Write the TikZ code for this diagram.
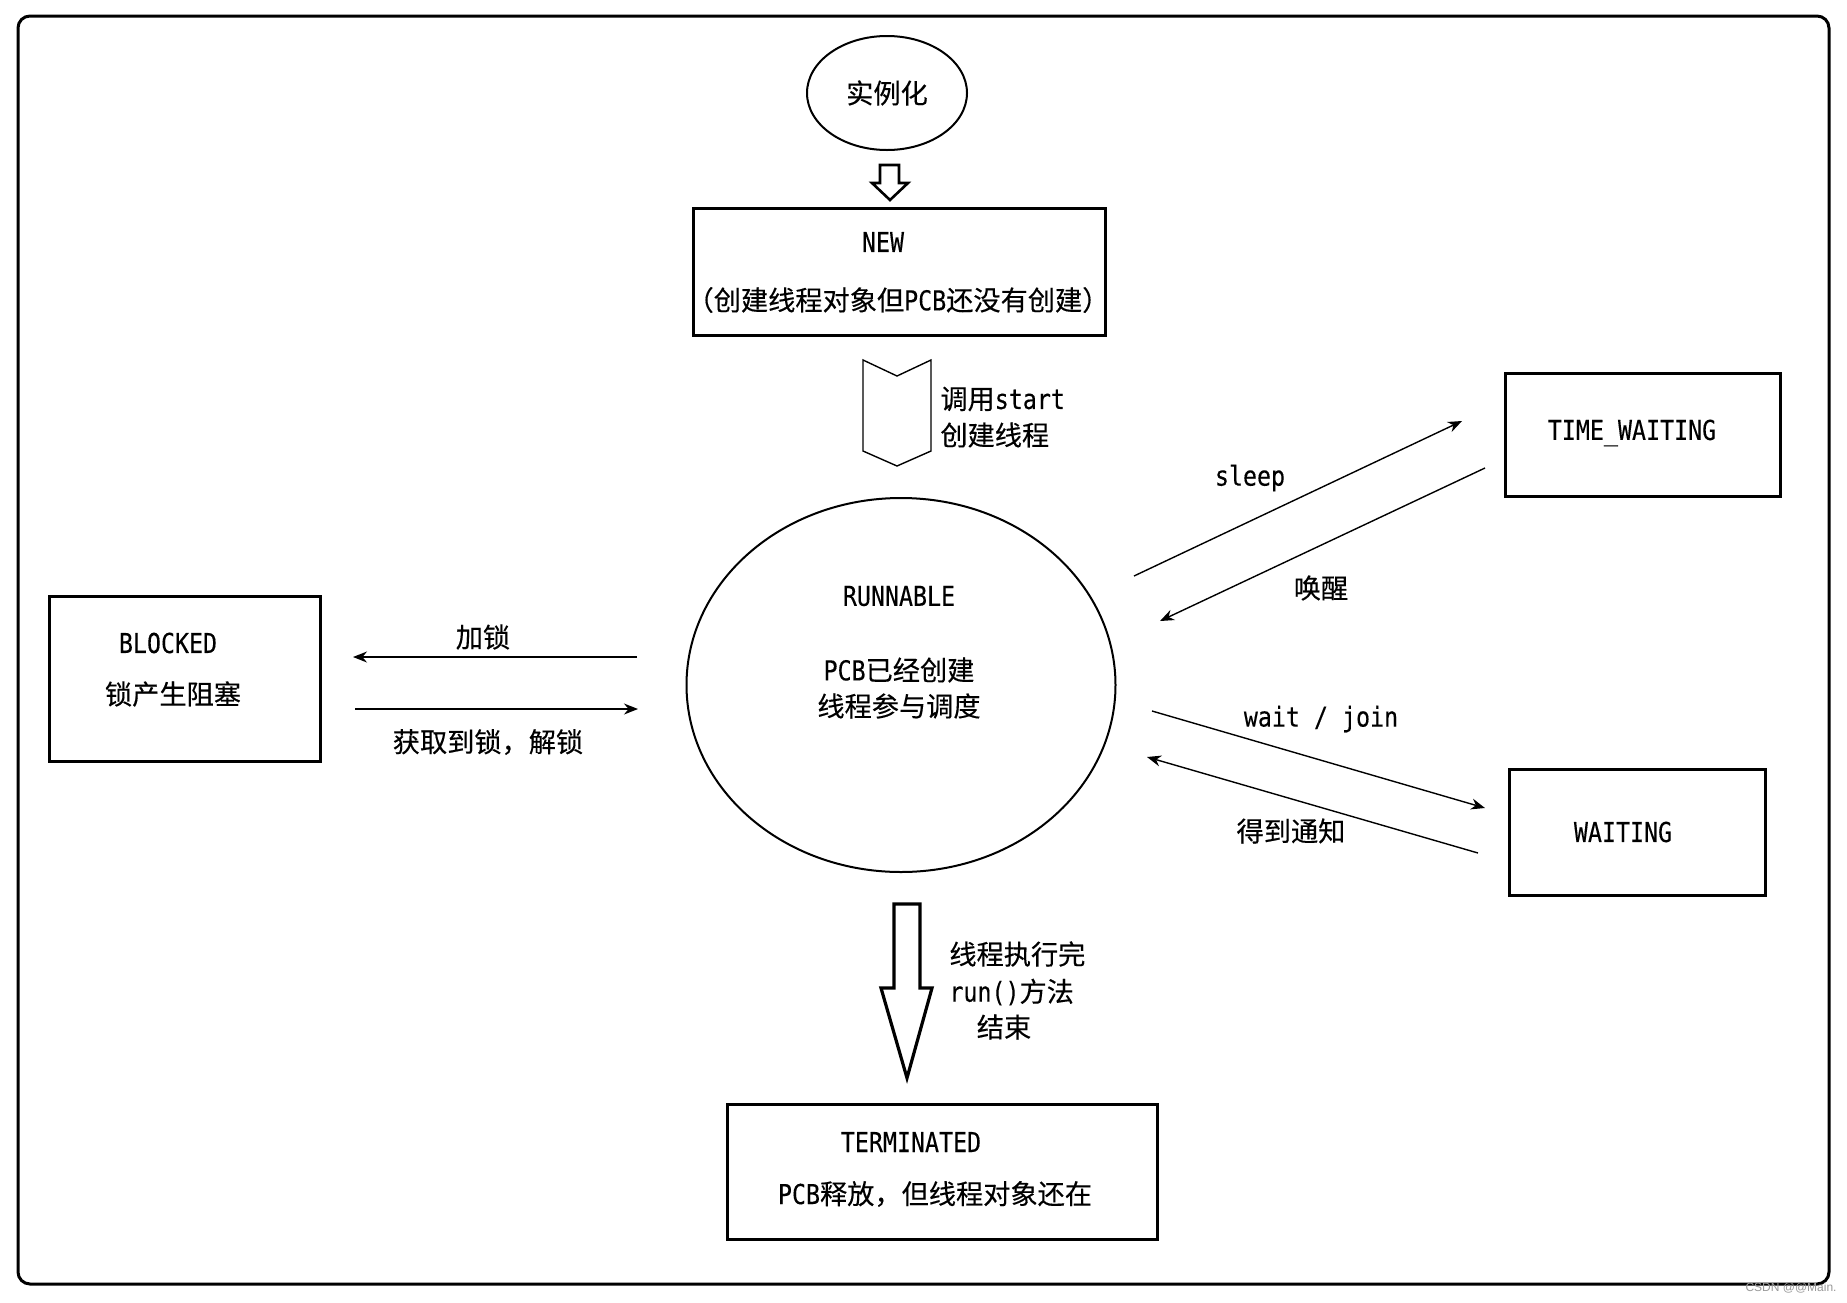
\documentclass[tikz,border=0pt]{standalone}
\usepackage{fontspec}
\setmainfont{Noto Sans CJK SC}[FakeBold=0.3]
\newfontfamily\latinmono[FakeStretch=0.85,FakeBold=0.2]{DejaVu Sans Mono}
\newfontfamily\markfont{Liberation Sans}
\usetikzlibrary{arrows.meta,shapes.geometric}
\newcommand\ltn[1]{{\fontsize{13.7}{18}\latinmono #1}}
\begin{document}
\begin{tikzpicture}[x=0.5pt,y=-0.5pt,
  txt/.style={inner sep=0pt, font=\fontsize{13.6}{18}\selectfont},
  box/.style={draw, line width=1.5pt, inner sep=0pt},
  oval/.style={draw, ellipse, line width=1pt, inner sep=0pt},
  conn/.style={line width=0.7pt, -{Stealth[length=7pt,width=5.5pt]}},
  hollow/.style={draw, line width=1.3pt, line join=miter},
  frame/.style={draw, line width=1.5pt, rounded corners=6pt, inner sep=0pt}
]
\fill[white] (0,0) rectangle (1847,1302);
\useasboundingbox (0,0) rectangle (1847,1302);

% outer frame
\node[frame, minimum width=905.5pt, minimum height=634pt] (frame) at (923.5,650) {};

% states
\node[oval, minimum width=80pt, minimum height=57pt] (inst) at (887,93) {};
\node[box, minimum width=206pt, minimum height=63.5pt] (new) at (899,271.5) {};
\node[oval, minimum width=214.5pt, minimum height=187pt] (run) at (901,685) {};
\node[box, minimum width=137.5pt, minimum height=61.5pt] (timed) at (1642.5,434.5) {};
\node[box, minimum width=128pt, minimum height=63pt] (waiting) at (1637,832) {};
\node[box, minimum width=135.5pt, minimum height=82.5pt] (blocked) at (184.5,678.5) {};
\node[box, minimum width=215pt, minimum height=67.5pt] (term) at (942,1171.5) {};

% texts inside the states
\node[txt] (instT) at (887,93) {实例化};
\node[txt] (newT) at (883,242) {\ltn{NEW}};
\node[txt] (newD) at (898,300) {（创建线程对象但\ltn{PCB}还没有创建）};
\node[txt] (runT) at (899,596) {\ltn{RUNNABLE}};
\node[txt] (runD1) at (899,670) {\ltn{PCB}已经创建};
\node[txt] (runD2) at (899,706) {线程参与调度};
\node[txt] (timedT) at (1632,433) {\ltn{TIME\_WAITING}};
\node[txt] (waitingT) at (1623,832) {\ltn{WAITING}};
\node[txt] (blockedT) at (168,643) {\ltn{BLOCKED}};
\node[txt] (blockedD) at (173,694) {锁产生阻塞};
\node[txt] (termT) at (911,1142) {\ltn{TERMINATED}};
\node[txt] (termD) at (935,1194) {\ltn{PCB}释放，但线程对象还在};

% hollow arrow: instantiation -> NEW
\coordinate (a1) at (880,165);
\coordinate (a2) at (899,165);
\coordinate (a3) at (899,183);
\coordinate (a4) at (908,183);
\coordinate (a5) at (890,200);
\coordinate (a6) at (872,183);
\coordinate (a7) at (880,183);
\draw[hollow] (a1) -- (a2) -- (a3) -- (a4) -- (a5) -- (a6) -- (a7) -- cycle;

% chevron: NEW -> RUNNABLE
\coordinate (c1) at (863,360);
\coordinate (c2) at (897,376);
\coordinate (c3) at (931,360);
\coordinate (c4) at (931,451);
\coordinate (c5) at (897,466);
\coordinate (c6) at (863,451);
\draw[line width=0.7pt, line join=miter] (c1) -- (c2) -- (c3) -- (c4) -- (c5) -- (c6) -- cycle;
\node[txt, anchor=west] (startA) at (940,399) {调用\ltn{start}};
\node[txt, anchor=west] (startB) at (940,435) {创建线程};

% big hollow arrow: RUNNABLE -> TERMINATED
\coordinate (b1) at (894,904);
\coordinate (b2) at (920,904);
\coordinate (b3) at (920,988);
\coordinate (b4) at (932,988);
\coordinate (b5) at (907,1078);
\coordinate (b6) at (881,988);
\coordinate (b7) at (894,988);
\draw[hollow, line width=1.6pt] (b1) -- (b2) -- (b3) -- (b4) -- (b5) -- (b6) -- (b7) -- cycle;
\node[txt, anchor=west] (endA) at (949,954) {线程执行完};
\node[txt, anchor=west] (endB) at (949,992) {\ltn{run()}方法};
\node[txt] (endC) at (1004,1027) {结束};

% RUNNABLE <-> TIME_WAITING
\coordinate (s0) at (1134,576);
\coordinate (s1) at (1462,421);
\coordinate (w0) at (1485,468);
\coordinate (w1) at (1160,621);
\draw[conn] (s0) -- (s1);
\draw[conn] (w0) -- (w1);
\node[txt] (sleepL) at (1250,478) {\ltn{sleep}};
\node[txt] (wakeL) at (1321,588) {唤醒};

% RUNNABLE <-> WAITING
\coordinate (j0) at (1152,711);
\coordinate (j1) at (1485,808);
\coordinate (n0) at (1478,853);
\coordinate (n1) at (1147,757);
\draw[conn] (j0) -- (j1);
\draw[conn] (n0) -- (n1);
\node[txt] (joinL) at (1321,719) {\ltn{wait / join}};
\node[txt] (notifyL) at (1291,831) {得到通知};

% RUNNABLE <-> BLOCKED
\coordinate (l0) at (637,657);
\coordinate (l1) at (353,657);
\coordinate (u0) at (355,709);
\coordinate (u1) at (638,709);
\draw[conn] (l0) -- (l1);
\draw[conn] (u0) -- (u1);
\node[txt] (lockL) at (483,637) {加锁};
\node[txt] (unlockL) at (488,742) {获取到锁，解锁};

% watermark
\node[inner sep=0pt, font=\fontsize{6}{7}\markfont, text=black!40] (mark) at (1791,1288) {CSDN @@Main.};
\end{tikzpicture}
\end{document}
